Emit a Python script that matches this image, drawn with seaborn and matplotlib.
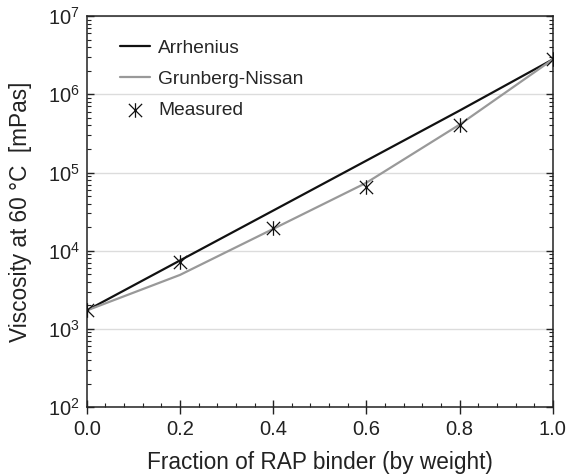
import numpy as np
import pandas as pd
import matplotlib
matplotlib.use("Agg")
import matplotlib.pyplot as plt
from matplotlib.path import Path
from matplotlib.ticker import MultipleLocator, LogLocator, NullFormatter, FormatStrFormatter
import seaborn as sns

# Fraction of RAP binder in the blend
fraction = [0.0, 0.2, 0.4, 0.6, 0.8, 1.0]
# Viscosity at 60 °C [mPas]
arrhenius = [1720, 7500, 32600, 142000, 620000, 2800000]
grunberg_nissan = [1720, 4900, 19000, 74000, 410000, 2800000]
measured = [1720, 7200, 19500, 66000, 400000, 2800000]

sns.set_theme(style="white")
plt.rcParams["font.family"] = ["Liberation Sans", "DejaVu Sans"]
plt.rcParams["mathtext.fontset"] = "custom"
plt.rcParams["mathtext.rm"] = "Liberation Sans"

models = pd.DataFrame({
    "fraction": fraction * 2,
    "viscosity": arrhenius + grunberg_nissan,
    "model": ["Arrhenius"] * len(fraction) + ["Grunberg-Nissan"] * len(fraction),
})
obs = pd.DataFrame({"fraction": fraction, "viscosity": measured, "model": "Measured"})

# asterisk: an X with a vertical stroke
star = Path([(-1, -1), (1, 1), (-1, 1), (1, -1), (0, -1.1), (0, 1.1)],
            [Path.MOVETO, Path.LINETO, Path.MOVETO, Path.LINETO, Path.MOVETO, Path.LINETO])

fig = plt.figure(figsize=(5.67, 4.75), dpi=100)
ax = fig.add_axes([0.153, 0.143, 0.822, 0.823])

sns.lineplot(data=models, x="fraction", y="viscosity", hue="model",
             palette={"Arrhenius": "#111111", "Grunberg-Nissan": "#999999"},
             linewidth=1.6, ax=ax, zorder=3)
sns.scatterplot(data=obs, x="fraction", y="viscosity", marker=star, s=110,
                color="#111111", linewidth=0.9, edgecolor="#111111",
                label="Measured", ax=ax, zorder=4)

ax.set_yscale("log")
ax.set_xlim(0, 1)
ax.set_ylim(1e2, 1e7)
ax.xaxis.set_major_locator(MultipleLocator(0.2))
ax.xaxis.set_minor_locator(MultipleLocator(0.04))
ax.xaxis.set_major_formatter(FormatStrFormatter("%.1f"))
ax.yaxis.set_major_locator(LogLocator(base=10, numticks=10))
ax.yaxis.set_minor_locator(LogLocator(base=10, subs=np.arange(2, 10), numticks=20))
ax.yaxis.set_minor_formatter(NullFormatter())

ax.grid(axis="y", which="major", color="#dcdcdc", linewidth=1.0)
ax.set_axisbelow(True)

for s in ax.spines.values():
    s.set_color("#222222")
    s.set_linewidth(1.1)

ax.tick_params(axis="both", which="both", direction="in", colors="#222222",
               labelcolor="#222222", labelsize=14.5)
ax.tick_params(axis="y", which="both", left=True, right=True)
ax.tick_params(axis="x", which="both", bottom=True, top=False)
ax.tick_params(which="major", length=5, width=1)
ax.tick_params(which="minor", length=3, width=0.8)
ax.tick_params(axis="x", which="major", direction="inout", length=10, pad=4)
ax.tick_params(axis="y", pad=5)

ax.set_xlabel("Fraction of RAP binder (by weight)", fontsize=16.3, color="#222222", labelpad=9)
ax.set_ylabel("Viscosity at 60 °C  [mPas]", fontsize=16.3, color="#222222", labelpad=11)

ax.legend(loc="upper left", frameon=False, fontsize=13.8, handlelength=1.55,
          handletextpad=0.45, labelspacing=0.72, borderaxespad=0.0,
          bbox_to_anchor=(0.055, 0.96))

fig.savefig("out.png", dpi=100)
